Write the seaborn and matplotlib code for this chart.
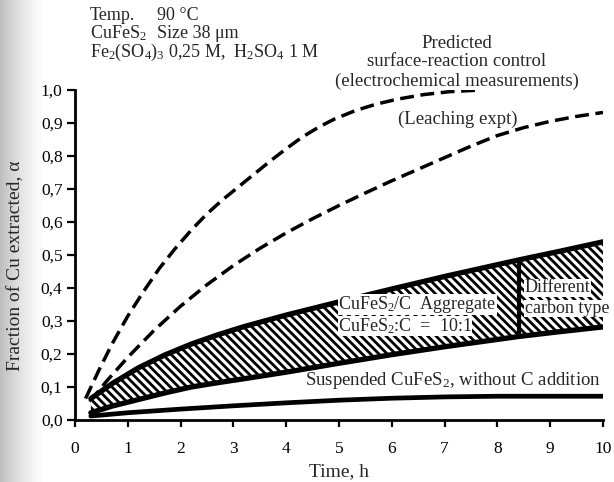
import numpy as np
import pandas as pd
import matplotlib
matplotlib.use("Agg")
import matplotlib.pyplot as plt
import seaborn as sns

# Predicted surface-reaction control (electrochemical measurements)
pred_t = [0.2, 0.45, 0.7, 1.0, 1.3, 1.6, 1.9, 2.2, 2.5, 2.8, 3.1, 3.4, 3.7,
          4.0, 4.3, 4.6, 4.9, 5.3, 5.7, 6.1, 6.6, 7.1, 7.7]
pred_a = [0.065, 0.15, 0.23, 0.315, 0.39, 0.46, 0.52, 0.575, 0.625, 0.668, 0.707,
          0.746, 0.785, 0.822, 0.857, 0.886, 0.911, 0.937, 0.957, 0.972, 0.986,
          0.995, 1.0]

# Leaching experiment
leach_t = [0.28, 0.6, 1.0, 1.5, 2.0, 2.5, 3.0, 3.5, 4.0, 4.5, 5.0, 5.5, 6.0,
           6.5, 7.0, 7.5, 8.0, 8.5, 9.0, 9.5, 10.0]
leach_a = [0.055, 0.118, 0.19, 0.272, 0.345, 0.41, 0.468, 0.52, 0.567, 0.61,
           0.65, 0.688, 0.725, 0.76, 0.795, 0.83, 0.862, 0.886, 0.905, 0.92, 0.932]

# CuFeS2/C aggregate band (upper / lower bounds)
band_t = [0.3, 0.7, 1.2, 1.7, 2.2, 2.7, 3.2, 4.0, 5.0, 6.0, 7.0, 8.4, 9.2, 10.0]
band_hi = [0.065, 0.11, 0.158, 0.197, 0.23, 0.258, 0.283, 0.318, 0.358, 0.397,
           0.435, 0.485, 0.512, 0.54]
band_lo = [0.022, 0.042, 0.062, 0.082, 0.10, 0.113, 0.125, 0.145, 0.172, 0.198,
           0.222, 0.253, 0.268, 0.282]
carbon_split_t = 8.4

# Suspended CuFeS2 without carbon
susp_t = [0.3, 1.0, 2.0, 3.0, 4.0, 5.0, 6.0, 7.0, 8.0, 10.0]
susp_a = [0.012, 0.022, 0.033, 0.043, 0.052, 0.06, 0.066, 0.07, 0.072, 0.072]

x_ticks = list(range(0, 11))
y_ticks = [i / 10 for i in range(11)]
y_tick_labels = [f"{v:.1f}".replace(".", ",") for v in y_ticks]

sns.set_style("ticks")
plt.rcParams["font.family"] = ["Liberation Serif", "DejaVu Serif"]
plt.rcParams["mathtext.fontset"] = "custom"
plt.rcParams["mathtext.rm"] = "Liberation Serif"
plt.rcParams["mathtext.it"] = "Liberation Serif:italic"
plt.rcParams["hatch.linewidth"] = 2.0
plt.rcParams["hatch.color"] = "black"

W, H = 614, 482
X0, X1, Y0, Y1 = 75, 603, 420, 90
fig = plt.figure(figsize=(W / 100, H / 100), dpi=100)
ax = fig.add_axes([X0 / W, 1 - Y0 / H, (X1 - X0) / W, (Y0 - Y1) / H])

# faint grey shading along the left margin of the page
grad = np.linspace(1, 0, 64)[None, :] ** 1.4
gax = fig.add_axes([0, 0, 46 / W, 1], zorder=-1)
gax.imshow(np.dstack([np.full((1, 64), 0.70)] * 3 + [grad * 0.85]), aspect="auto",
           extent=[0, 1, 0, 1])
gax.axis("off")

dash = (4.0, 1.9)
df_pred = pd.DataFrame({"t": pred_t, "a": pred_a})
df_leach = pd.DataFrame({"t": leach_t, "a": leach_a})
df_susp = pd.DataFrame({"t": susp_t, "a": susp_a})
df_band = pd.DataFrame({"t": band_t, "hi": band_hi, "lo": band_lo})

sns.lineplot(data=df_pred, x="t", y="a", ax=ax, color="black", lw=2.5,
             estimator=None, sort=False).lines[-1].set_dashes(dash)
sns.lineplot(data=df_leach, x="t", y="a", ax=ax, color="black", lw=2.5,
             estimator=None, sort=False).lines[-1].set_dashes(dash)

ax.fill_between(df_band["t"], df_band["lo"], df_band["hi"], facecolor="white",
                edgecolor="black", hatch="\\\\\\\\", linewidth=0, zorder=2)
sns.lineplot(data=df_band, x="t", y="hi", ax=ax, color="black", lw=3.8,
             estimator=None, sort=False, zorder=3)
sns.lineplot(data=df_band, x="t", y="lo", ax=ax, color="black", lw=3.8,
             estimator=None, sort=False, zorder=3)
i_split = band_t.index(carbon_split_t)
ax.plot([carbon_split_t, carbon_split_t], [band_lo[i_split], band_hi[i_split]],
        color="black", lw=3, zorder=3)

sns.lineplot(data=df_susp, x="t", y="a", ax=ax, color="black", lw=3.4,
             estimator=None, sort=False, zorder=3)

ax.set_xlim(0, 10)
ax.set_ylim(0, 1.0)
ax.set_xticks(x_ticks)
ax.set_xticklabels([str(v) for v in x_ticks])
ax.set_yticks(y_ticks)
ax.set_yticklabels(y_tick_labels)
ax.tick_params(axis="both", direction="out", length=6, width=1.6,
               labelsize=12.5, colors="black", pad=3)
ax.tick_params(axis="x", pad=10, length=5)
for s in ("top", "right"):
    ax.spines[s].set_visible(False)
for s in ("left", "bottom"):
    ax.spines[s].set_linewidth(2)
    ax.spines[s].set_color("black")
ax.set_xlabel("")
ax.set_ylabel("")
ax.patch.set_alpha(0)

fig.text(339 / W, 1 - 472 / H, "Time, h", ha="center", va="center", fontsize=14)
fig.text(16 / W, 1 - 266 / H, "Fraction of Cu extracted, α", rotation=90,
         ha="center", va="center", fontsize=14)

# experimental conditions
fs = 13
fig.text(90 / W, 1 - 15 / H, "Temp.", va="center", fontsize=fs)
fig.text(157 / W, 1 - 15 / H, "90 °C", va="center", fontsize=fs)
fig.text(90 / W, 1 - 33 / H, "CuFeS$_2$", va="center", fontsize=fs)
fig.text(157 / W, 1 - 33 / H, "Size 38 μm", va="center", fontsize=fs)
fig.text(90 / W, 1 - 52 / H, "Fe$_2$(SO$_4$)$_3$ 0,25 M,  H$_2$SO$_4$ 1 M",
         va="center", fontsize=fs)

fs2 = 13.5
fig.text(457 / W, 1 - 43 / H, "Predicted", ha="center", va="center", fontsize=fs2)
fig.text(457 / W, 1 - 62 / H, "surface-reaction control", ha="center",
         va="center", fontsize=fs2)
fig.text(457 / W, 1 - 81 / H, "(electrochemical measurements)", ha="center",
         va="center", fontsize=fs2)

ax.text(7.25, 0.91, "(Leaching expt)", ha="center", va="center", fontsize=fs2)
box = dict(facecolor="white", edgecolor="none", pad=0.2)
fs3 = 13
ax.text(8.52, 0.40, "Different", ha="left", va="center", fontsize=fs3, bbox=box,
        zorder=4, clip_on=False)
ax.text(8.52, 0.338, "carbon type", ha="left", va="center", fontsize=fs3, bbox=box,
        zorder=4, clip_on=False)
ax.text(4.98, 0.35, "CuFeS$_2$/C  Aggregate", ha="left", va="center", fontsize=fs3,
        bbox=box, zorder=4)
ax.text(4.98, 0.285, "CuFeS$_2$:C  =  10:1", ha="left", va="center", fontsize=fs3,
        bbox=box, zorder=4)
ax.text(4.35, 0.12, "Suspended CuFeS$_2$, without C addition", ha="left",
        va="center", fontsize=fs2, clip_on=False, zorder=4)

fig.savefig("out.png", dpi=100)
